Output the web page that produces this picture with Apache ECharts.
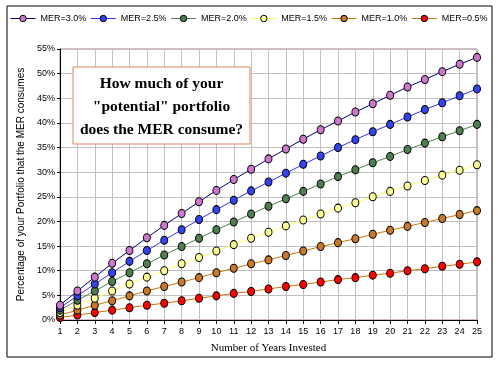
<!DOCTYPE html>
<html><head><meta charset="utf-8">
<script src="https://cdn.jsdelivr.net/npm/echarts@6/dist/echarts.min.js"></script>
<style>html,body{margin:0;padding:0;background:#fff}#c{width:500px;height:365px}</style>
</head><body><div id="c"></div>
<script>
const years = ['1','2','3','4','5','6','7','8','9','10','11','12','13','14','15','16','17','18','19','20','21','22','23','24','25'];
const yTicks = [0,5,10,15,20,25,30,35,40,45,50,55];
const seriesNames = ['MER=3.0%','MER=2.5%','MER=2.0%','MER=1.5%','MER=1.0%','MER=0.5%'];
const mer30 = [3.0,5.9,8.7,11.5,14.1,16.7,19.2,21.6,24.0,26.3,28.5,30.6,32.7,34.7,36.7,38.6,40.4,42.2,43.9,45.6,47.3,48.8,50.4,51.9,53.3];
const mer25 = [2.5,4.9,7.3,9.6,11.9,14.1,16.2,18.3,20.4,22.4,24.3,26.2,28.0,29.8,31.6,33.3,35.0,36.6,38.2,39.7,41.2,42.7,44.1,45.5,46.9];
const mer20 = [2.0,4.0,5.9,7.8,9.6,11.4,13.2,14.9,16.6,18.3,19.9,21.5,23.1,24.6,26.1,27.6,29.1,30.5,31.9,33.2,34.6,35.9,37.2,38.4,39.7];
const mer15 = [1.5,3.0,4.4,5.9,7.3,8.7,10.0,11.4,12.7,14.0,15.3,16.6,17.8,19.1,20.3,21.5,22.7,23.8,25.0,26.1,27.2,28.3,29.4,30.4,31.5];
const mer10 = [1.0,2.0,3.0,3.9,4.9,5.9,6.8,7.7,8.6,9.6,10.5,11.4,12.2,13.1,14.0,14.9,15.7,16.5,17.4,18.2,19.0,19.8,20.6,21.4,22.2];
const mer05 = [0.5,1.0,1.5,2.0,2.5,3.0,3.4,3.9,4.4,4.9,5.4,5.8,6.3,6.8,7.2,7.7,8.2,8.6,9.1,9.5,10.0,10.4,10.9,11.3,11.8];
const allData = [mer30, mer25, mer20, mer15, mer10, mer05];
const lineColors = ['#000080','#3333ff','#4f7f4f','#ffff66','#cc7700','#cc7700'];
const markerColors = ['#cc77cc','#3344ee','#4f7f4f','#ffff99','#c87828','#ff0000'];

const chart = echarts.init(document.getElementById('c'), null, {renderer:'canvas'});
const sans = 'Liberation Sans, Arial, sans-serif';
const serif = 'Liberation Serif, Times New Roman, serif';
chart.setOption({
  animation:false,
  backgroundColor:'#fff',
  legend:{
    left:10, top:14, padding:0, itemWidth:25, itemHeight:8, itemGap:4,
    textStyle:{fontFamily:sans, fontSize:9, color:'#000'},
    data: seriesNames.map((n,i)=>({name:n, itemStyle:{color:markerColors[i], borderColor:'#000', borderWidth:1}, lineStyle:{color:lineColors[i], width:1}}))
  },
  grid:{left:60, right:23, top:49, bottom:45, show:true, borderColor:'#b07898', borderWidth:1, backgroundColor:'#fff'},
  xAxis:{
    type:'category', data:years, boundaryGap:false,
    name:'Number of Years Invested', nameLocation:'middle', nameGap:23,
    nameTextStyle:{fontFamily:serif, fontSize:11, color:'#000'},
    axisLine:{show:true, lineStyle:{color:'#000', width:1}},
    axisTick:{show:true, length:4, interval:0, lineStyle:{color:'#000'}},
    axisLabel:{fontFamily:sans, fontSize:9, color:'#000', margin:7, interval:0},
    splitLine:{show:true, interval:0, lineStyle:{color:'#c0c0c0', width:1}}
  },
  yAxis:{
    type:'value', min:yTicks[0], max:yTicks[yTicks.length-1], interval:5,
    name:'Percentage of your Portfolio that the MER consumes', nameLocation:'middle', nameGap:31,
    nameTextStyle:{fontFamily:sans, fontSize:10, color:'#000'},
    axisLine:{show:true, lineStyle:{color:'#000', width:1}},
    axisTick:{show:true, length:3, lineStyle:{color:'#000'}},
    axisLabel:{fontFamily:sans, fontSize:9, color:'#000', margin:5, formatter:'{value}%'},
    splitLine:{show:true, lineStyle:{color:'#c0c0c0', width:1}}
  },
  series: seriesNames.map((n,i)=>({
    name:n, type:'line', data:allData[i], symbol:'circle', symbolSize:[7,8],
    showAllSymbol:true, z: 10-i,
    lineStyle:{color:lineColors[i], width:1},
    itemStyle:{color:markerColors[i], borderColor:'#000', borderWidth:1}
  })),
  graphic:[
    {type:'rect', x:7, y:6, shape:{x:0, y:0, width:485, height:351}, style:{fill:'none', stroke:'#000', lineWidth:1}, z:-1, silent:true},
    {type:'rect', x:73, y:67, shape:{x:0, y:0, width:177, height:77}, style:{fill:'#fff', stroke:'#e8845a', lineWidth:1}, z:100},
    {type:'text', x:161.5, y:72, z:101,
     style:{text:'How much of your\n"potential" portfolio\ndoes the MER consume?', textAlign:'center', textVerticalAlign:'top', font:'bold 15.5px '+serif, fill:'#000', lineHeight:23}}
  ]
});
</script></body></html>
